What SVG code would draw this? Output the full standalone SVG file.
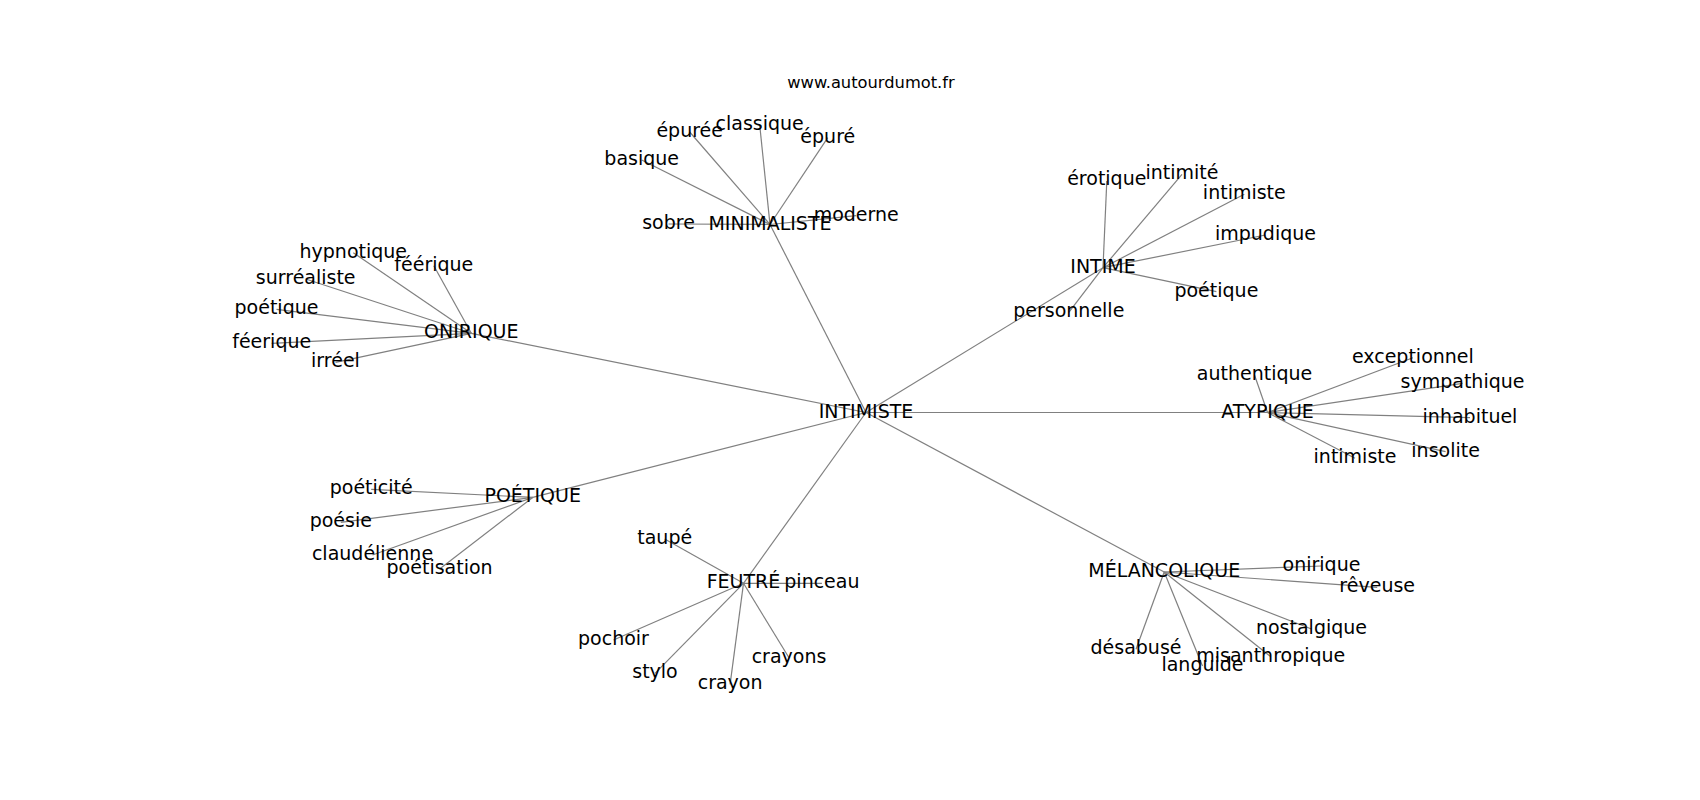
<svg xmlns="http://www.w3.org/2000/svg" width="1700" height="800" viewBox="0 0 1700 800">
<style>
  text { font-family: "DejaVu Sans", "Liberation Sans", sans-serif; fill: #000; text-anchor: middle; }
  .lbl { font-size: 19px; }
  .title { font-size: 16.3px; }
  #edges line { stroke: #808080; stroke-width: 1.2; }
</style>
<rect width="1700" height="800" fill="#fff"/>
<text class="title" x="871" y="88">www.autourdumot.fr</text>
<g id="edges">
  <line x1="866" y1="412.5" x2="770" y2="224.5"/>
  <line x1="866" y1="412.5" x2="471.3" y2="333.3"/>
  <line x1="866" y1="412.5" x2="532.7" y2="497.4"/>
  <line x1="866" y1="412.5" x2="743.5" y2="583.3"/>
  <line x1="866" y1="412.5" x2="1164.2" y2="572"/>
  <line x1="866" y1="412.5" x2="1267.5" y2="412.5"/>
  <line x1="866" y1="412.5" x2="1103" y2="267.7"/>
  <line x1="770" y1="224.5" x2="641.7" y2="160"/>
  <line x1="770" y1="224.5" x2="668.5" y2="224"/>
  <line x1="770" y1="224.5" x2="689.7" y2="132"/>
  <line x1="770" y1="224.5" x2="759.7" y2="125"/>
  <line x1="770" y1="224.5" x2="827.8" y2="137.7"/>
  <line x1="770" y1="224.5" x2="856.2" y2="215.7"/>
  <line x1="471.3" y1="333.3" x2="353.3" y2="252.7"/>
  <line x1="471.3" y1="333.3" x2="433.8" y2="265.7"/>
  <line x1="471.3" y1="333.3" x2="305.7" y2="279"/>
  <line x1="471.3" y1="333.3" x2="276.5" y2="309.3"/>
  <line x1="471.3" y1="333.3" x2="271.7" y2="343.3"/>
  <line x1="471.3" y1="333.3" x2="335.5" y2="362.3"/>
  <line x1="1103" y1="267.7" x2="1106.8" y2="181"/>
  <line x1="1103" y1="267.7" x2="1182" y2="174.3"/>
  <line x1="1103" y1="267.7" x2="1244.3" y2="194.3"/>
  <line x1="1103" y1="267.7" x2="1265.5" y2="235"/>
  <line x1="1103" y1="267.7" x2="1216.4" y2="291.7"/>
  <line x1="1103" y1="267.7" x2="1068.8" y2="312.3"/>
  <line x1="1267.5" y1="412.5" x2="1254.5" y2="375"/>
  <line x1="1267.5" y1="412.5" x2="1412.9" y2="357.7"/>
  <line x1="1267.5" y1="412.5" x2="1462.5" y2="383.3"/>
  <line x1="1267.5" y1="412.5" x2="1470" y2="417.7"/>
  <line x1="1267.5" y1="412.5" x2="1445.6" y2="451.7"/>
  <line x1="1267.5" y1="412.5" x2="1355" y2="458.3"/>
  <line x1="1164.2" y1="572" x2="1321.5" y2="566"/>
  <line x1="1164.2" y1="572" x2="1377.2" y2="587.3"/>
  <line x1="1164.2" y1="572" x2="1311.5" y2="629"/>
  <line x1="1164.2" y1="572" x2="1136" y2="649.3"/>
  <line x1="1164.2" y1="572" x2="1270.8" y2="656.7"/>
  <line x1="1164.2" y1="572" x2="1202.5" y2="666"/>
  <line x1="532.7" y1="497.4" x2="371.2" y2="489.3"/>
  <line x1="532.7" y1="497.4" x2="340.8" y2="522.3"/>
  <line x1="532.7" y1="497.4" x2="372.5" y2="555"/>
  <line x1="532.7" y1="497.4" x2="439.6" y2="569"/>
  <line x1="743.5" y1="583.3" x2="664.7" y2="539"/>
  <line x1="743.5" y1="583.3" x2="821.9" y2="583.3"/>
  <line x1="743.5" y1="583.3" x2="613.5" y2="640"/>
  <line x1="743.5" y1="583.3" x2="655" y2="673.3"/>
  <line x1="743.5" y1="583.3" x2="730.1" y2="684.3"/>
  <line x1="743.5" y1="583.3" x2="789" y2="657.7"/>
</g>
<g id="n-intimiste"><text class="lbl" x="866" y="417.5">INTIMISTE</text></g>
<g id="n-minimaliste"><text class="lbl" x="770" y="229.5">MINIMALISTE</text></g>
<g id="n-onirique"><text class="lbl" x="471.3" y="338.3">ONIRIQUE</text></g>
<g id="n-poetique"><text class="lbl" x="532.7" y="502.4">POÉTIQUE</text></g>
<g id="n-feutre"><text class="lbl" x="743.5" y="588.3">FEUTRÉ</text></g>
<g id="n-melancolique"><text class="lbl" x="1164.2" y="577">MÉLANCOLIQUE</text></g>
<g id="n-atypique"><text class="lbl" x="1267.5" y="417.5">ATYPIQUE</text></g>
<g id="n-intime"><text class="lbl" x="1103" y="272.7">INTIME</text></g>

<g id="n-basique"><text class="lbl" x="641.7" y="165">basique</text></g>
<g id="n-sobre"><text class="lbl" x="668.5" y="229">sobre</text></g>
<g id="n-epuree"><text class="lbl" x="689.7" y="137">épurée</text></g>
<g id="n-classique"><text class="lbl" x="759.7" y="130">classique</text></g>
<g id="n-epure"><text class="lbl" x="827.8" y="142.7">épuré</text></g>
<g id="n-moderne"><text class="lbl" x="856.2" y="220.7">moderne</text></g>

<g id="n-hypnotique"><text class="lbl" x="353.3" y="257.7">hypnotique</text></g>
<g id="n-feerique1"><text class="lbl" x="433.8" y="270.7">féérique</text></g>
<g id="n-surrealiste"><text class="lbl" x="305.7" y="284">surréaliste</text></g>
<g id="n-poetique2"><text class="lbl" x="276.5" y="314.3">poétique</text></g>
<g id="n-feerique2"><text class="lbl" x="271.7" y="348.3">féerique</text></g>
<g id="n-irreel"><text class="lbl" x="335.5" y="367.3">irréel</text></g>

<g id="n-erotique"><text class="lbl" x="1106.8" y="185">érotique</text></g>
<g id="n-intimite"><text class="lbl" x="1182" y="179.3">intimité</text></g>
<g id="n-intimiste2"><text class="lbl" x="1244.3" y="199.3">intimiste</text></g>
<g id="n-impudique"><text class="lbl" x="1265.5" y="240">impudique</text></g>
<g id="n-poetique3"><text class="lbl" x="1216.4" y="296.7">poétique</text></g>
<g id="n-personnelle"><text class="lbl" x="1068.8" y="317.3">personnelle</text></g>

<g id="n-authentique"><text class="lbl" x="1254.5" y="380">authentique</text></g>
<g id="n-exceptionnel"><text class="lbl" x="1412.9" y="362.7">exceptionnel</text></g>
<g id="n-sympathique"><text class="lbl" x="1462.5" y="388.3">sympathique</text></g>
<g id="n-inhabituel"><text class="lbl" x="1470" y="422.7">inhabituel</text></g>
<g id="n-insolite"><text class="lbl" x="1445.6" y="456.7">insolite</text></g>
<g id="n-intimiste3"><text class="lbl" x="1355" y="463.3">intimiste</text></g>

<g id="n-onirique2"><text class="lbl" x="1321.5" y="571">onirique</text></g>
<g id="n-reveuse"><text class="lbl" x="1377.2" y="592.3">rêveuse</text></g>
<g id="n-nostalgique"><text class="lbl" x="1311.5" y="634">nostalgique</text></g>
<g id="n-desabuse"><text class="lbl" x="1136" y="654.3">désabusé</text></g>
<g id="n-misanthropique"><text class="lbl" x="1270.8" y="661.7">misanthropique</text></g>
<g id="n-languide"><text class="lbl" x="1202.5" y="671">languide</text></g>

<g id="n-poeticite"><text class="lbl" x="371.2" y="494.3">poéticité</text></g>
<g id="n-poesie"><text class="lbl" x="340.8" y="527.3">poésie</text></g>
<g id="n-claudelienne"><text class="lbl" x="372.5" y="560">claudélienne</text></g>
<g id="n-poetisation"><text class="lbl" x="439.6" y="574">poétisation</text></g>

<g id="n-taupe"><text class="lbl" x="664.7" y="544">taupé</text></g>
<g id="n-pinceau"><text class="lbl" x="821.9" y="588.3">pinceau</text></g>
<g id="n-pochoir"><text class="lbl" x="613.5" y="645">pochoir</text></g>
<g id="n-stylo"><text class="lbl" x="655" y="678.3">stylo</text></g>
<g id="n-crayon"><text class="lbl" x="730.1" y="689.3">crayon</text></g>
<g id="n-crayons"><text class="lbl" x="789" y="662.7">crayons</text></g>
</svg>
